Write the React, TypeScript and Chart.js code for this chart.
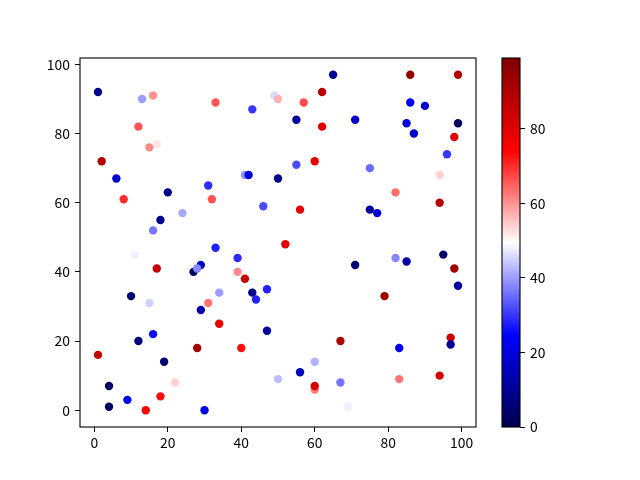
import { useEffect, useRef } from 'react';
import { Chart, registerables } from 'chart.js';

Chart.register(...registerables);

// scatter points (x, y) and the colour value of each point
const xs = [
  1, 13, 16, 33, 43, 49, 50, 57, 62, 65, 86, 99, 12, 15, 17, 2, 6, 8, 20, 18,
  16, 24, 31, 32, 33, 41, 42, 46, 50, 55, 55, 60, 62, 56, 71, 75, 75, 77, 82, 85,
  86, 87, 90, 96, 94, 94, 98, 99, 52, 71, 82, 85, 95, 98, 79, 17, 11, 10, 15, 16,
  12, 1, 19, 4, 4, 9, 14, 18, 22, 30, 27, 29, 28, 28, 29, 31, 34, 34, 39, 39,
  41, 43, 44, 47, 47, 40, 50, 56, 60, 60, 60, 67, 67, 69, 83, 83, 94, 97, 97, 99,
];
const ys = [
  92, 90, 91, 89, 87, 91, 90, 89, 92, 97, 97, 97, 82, 76, 77, 72, 67, 61, 63, 55,
  52, 57, 65, 61, 47, 68, 68, 59, 67, 84, 71, 72, 82, 58, 84, 70, 58, 57, 63, 83,
  89, 80, 88, 74, 68, 60, 79, 83, 48, 42, 44, 43, 45, 41, 33, 41, 45, 33, 31, 22,
  20, 16, 14, 7, 1, 3, 0, 4, 8, 0, 40, 42, 41, 18, 29, 31, 34, 25, 44, 40,
  38, 34, 32, 35, 23, 18, 9, 11, 14, 6, 7, 20, 8, 1, 18, 9, 10, 21, 19, 36,
];
const cs = [
  8, 40, 60, 66, 30, 46, 57, 67, 88, 10, 96, 89, 66, 61, 52, 89, 18, 70, 8, 9,
  36, 41, 29, 66, 28, 39, 19, 32, 8, 11, 32, 79, 80, 79, 18, 35, 11, 19, 64, 20,
  23, 18, 19, 30, 54, 88, 81, 2, 79, 5, 38, 12, 4, 93, 93, 85, 48, 5, 45, 26,
  7, 86, 5, 3, 3, 23, 75, 73, 54, 21, 3, 17, 38, 92, 13, 63, 40, 78, 29, 61,
  84, 8, 28, 28, 11, 73, 43, 15, 42, 63, 82, 91, 36, 48, 22, 63, 82, 85, 10, 12,
];

const xTicks = [0, 20, 40, 60, 80, 100];
const yTicks = [0, 20, 40, 60, 80, 100];
const cbTicks = [0, 20, 40, 60, 80];

const cMin = 0;
const cMax = 99;

// matplotlib "seismic"
const seismicStops: [number, number[]][] = [
  [0, [0, 0, 77]],
  [0.25, [0, 0, 255]],
  [0.5, [255, 255, 255]],
  [0.75, [255, 0, 0]],
  [1, [128, 0, 0]],
];

function seismic(v: number) {
  const t = Math.min(1, Math.max(0, (v - cMin) / (cMax - cMin)));
  for (let i = 1; i < seismicStops.length; i++) {
    const [t0, c0] = seismicStops[i - 1];
    const [t1, c1] = seismicStops[i];
    if (t <= t1) {
      const f = (t - t0) / (t1 - t0);
      const c = c0.map((a, k) => Math.round(a + (c1[k] - a) * f));
      return `rgb(${c[0]}, ${c[1]}, ${c[2]})`;
    }
  }
  return 'rgb(128, 0, 0)';
}

const tickFont = { family: '"Noto Sans CJK SC", "Noto Sans", sans-serif', size: 13.9 };

const framePlugin = {
  id: 'frame',
  afterDraw(chart: Chart) {
    const { ctx, chartArea } = chart;
    ctx.save();
    ctx.strokeStyle = '#000';
    ctx.lineWidth = 1.1;
    ctx.strokeRect(chartArea.left, chartArea.top, chartArea.right - chartArea.left, chartArea.bottom - chartArea.top);
    ctx.restore();
  },
};

const gradientPlugin = {
  id: 'cbGradient',
  beforeDatasetsDraw(chart: Chart) {
    const { ctx, chartArea } = chart;
    const g = ctx.createLinearGradient(0, chartArea.bottom, 0, chartArea.top);
    seismicStops.forEach(([t, c]) => g.addColorStop(t, `rgb(${c[0]}, ${c[1]}, ${c[2]})`));
    ctx.save();
    ctx.fillStyle = g;
    ctx.fillRect(chartArea.left, chartArea.top, chartArea.right - chartArea.left, chartArea.bottom - chartArea.top);
    ctx.restore();
  },
};

const tickGrid = {
  display: true,
  drawOnChartArea: false,
  drawTicks: true,
  tickLength: 5,
  color: '#000',
  lineWidth: 1,
};

export default function App() {
  const mainRef = useRef<HTMLCanvasElement>(null);
  const barRef = useRef<HTMLCanvasElement>(null);

  useEffect(() => {
    if (!mainRef.current || !barRef.current) return;

    const main = new Chart(mainRef.current, {
      type: 'scatter',
      data: {
        datasets: [
          {
            data: xs.map((x, i) => ({ x, y: ys[i] })),
            backgroundColor: cs.map(seismic),
            pointRadius: 4.2,
            pointHoverRadius: 4.2,
            borderWidth: 0,
          },
        ],
      },
      options: {
        responsive: false,
        animation: false,
        layout: { padding: { top: 58, right: 164, left: 0, bottom: 0 } },
        plugins: { legend: { display: false }, tooltip: { enabled: false } },
        scales: {
          x: {
            type: 'linear',
            min: -3.9,
            max: 103.9,
            border: { display: false },
            grid: tickGrid,
            afterBuildTicks: (axis: any) => {
              axis.ticks = xTicks.map(v => ({ value: v }));
            },
            afterFit: (axis: any) => {
              axis.height = 53;
            },
            ticks: { font: tickFont, color: '#000', padding: 2, maxRotation: 0 },
          },
          y: {
            type: 'linear',
            min: -4.85,
            max: 101.85,
            border: { display: false },
            grid: tickGrid,
            afterBuildTicks: (axis: any) => {
              axis.ticks = yTicks.map(v => ({ value: v }));
            },
            afterFit: (axis: any) => {
              axis.width = 80;
            },
            ticks: { font: tickFont, color: '#000', padding: 5 },
          },
        },
      },
      plugins: [framePlugin],
    });

    const bar = new Chart(barRef.current, {
      type: 'scatter',
      data: { datasets: [{ data: [] }] },
      options: {
        responsive: false,
        animation: false,
        layout: { padding: { top: 58, left: 502, right: 0, bottom: 53 } },
        plugins: { legend: { display: false }, tooltip: { enabled: false } },
        scales: {
          x: { display: false, min: 0, max: 1 },
          y: {
            type: 'linear',
            position: 'right',
            min: cMin,
            max: cMax,
            border: { display: false },
            grid: tickGrid,
            afterBuildTicks: (axis: any) => {
              axis.ticks = cbTicks.map(v => ({ value: v }));
            },
            afterFit: (axis: any) => {
              axis.width = 120;
            },
            ticks: { font: tickFont, color: '#000', padding: 5 },
          },
        },
      },
      plugins: [gradientPlugin, framePlugin],
    });

    return () => {
      main.destroy();
      bar.destroy();
    };
  }, []);

  return (
    <div style={{ position: 'fixed', left: 0, top: 0, width: 640, height: 480, background: '#fff' }}>
      <canvas ref={mainRef} width={640} height={480} style={{ position: 'absolute', left: 0, top: 0 }} />
      <canvas ref={barRef} width={640} height={480} style={{ position: 'absolute', left: 0, top: 0 }} />
    </div>
  );
}
